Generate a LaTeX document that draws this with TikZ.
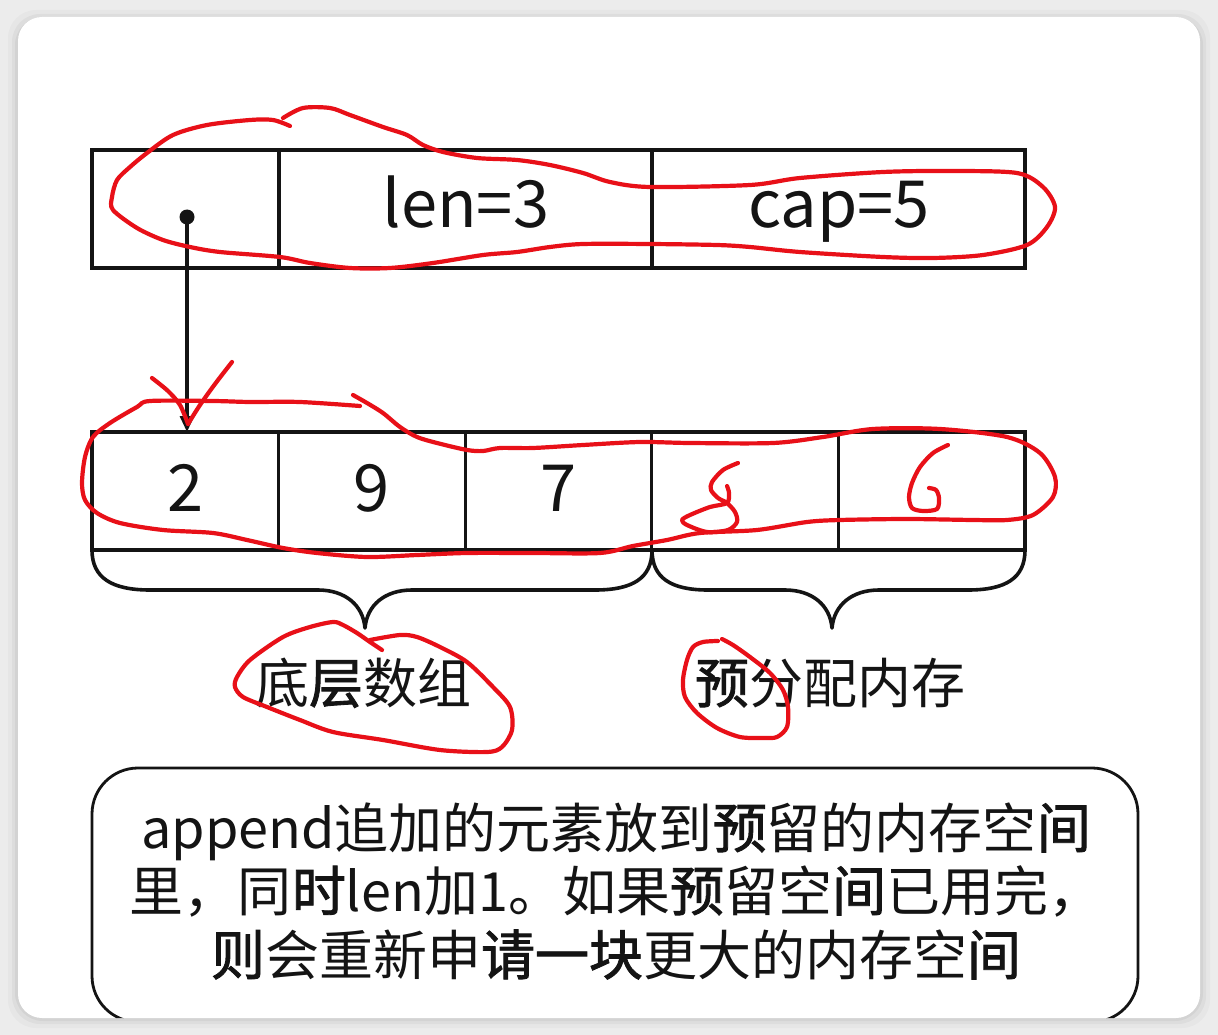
\documentclass[tikz,border=0pt]{standalone}
\usepackage{fontspec}
\setmainfont{Noto Sans CJK SC}[BoldFont={Noto Sans CJK SC},BoldFeatures={FakeBold=1.6}]
\usetikzlibrary{arrows.meta}
\definecolor{ink}{RGB}{20,20,20}
\definecolor{pen}{RGB}{232,16,24}
\definecolor{bg}{RGB}{236,236,236}
\begin{document}
\begin{tikzpicture}[x=1pt,y=-1pt,
  cell/.style={draw=ink,line width=3.2pt,minimum height=118pt,inner sep=0pt,outer sep=0pt},
  num/.style={anchor=base,font=\fontsize{65}{70}\selectfont,text=ink,inner sep=0pt},
  lbl/.style={anchor=base,font=\fontsize{54}{60}\selectfont,text=ink,inner sep=0pt},
  txt/.style={anchor=base,font=\fontsize{54}{60}\selectfont,text=ink,inner sep=0pt},
  redpen/.style={draw=pen,line width=4.2pt,line cap=round,line join=round},
  bracepath/.style={draw=ink,line width=3.6pt,line join=round},
  dotnode/.style={circle,fill=ink,inner sep=0pt,minimum size=15pt},
]
\useasboundingbox (0,0) rectangle (1218,1035);
\fill[bg] (0,0) rectangle (1218,1035);
\foreach \i/\o in {10/0.025,6/0.035,3/0.045} {
  \fill[black,opacity=\o,rounded corners=28] (18-\i,17-\i+3) rectangle (1200+\i,1018+\i);
}
\fill[white,rounded corners=24] (18,17) rectangle (1200,1018);

% top struct
\node[cell,minimum width=187pt] (p) at (185.5,209) {};
\node[cell,minimum width=373pt] (len) at (465.5,209) {};
\node[cell,minimum width=373pt] (cap) at (838.5,209) {};
\node[num] (tlen) at (466,228) {len=3};
\node[num] (tcap) at (839,228) {cap=5};

% array
\node[cell,minimum width=186.6pt] (a1) at (185.3,491) {};
\node[cell,minimum width=186.6pt] (a2) at (371.9,491) {};
\node[cell,minimum width=186.6pt] (a3) at (558.5,491) {};
\node[cell,minimum width=186.6pt] (a4) at (745.1,491) {};
\node[cell,minimum width=186.6pt] (a5) at (931.7,491) {};
\node[num] (n1) at (186,511) {2};
\node[num] (n2) at (372,511) {9};
\node[num] (n3) at (559,511) {7};

% pointer
\node[dotnode] (dot) at (187,217) {};
\draw[ink,line width=3.2pt,-{Triangle[length=16pt,width=14pt]}] (dot.center) -- (dot.center |- a1.north);

% braces
\draw[bracepath] (92,550) .. controls (92,578) and (112,590) .. (150,590) -- (318,590)
  .. controls (345,590) and (363,605) .. (365,628)
  .. controls (367,605) and (385,590) .. (412,590) -- (595,590)
  .. controls (633,590) and (652,578) .. (652,550);
\draw[bracepath] (652,550) .. controls (652,578) and (671,590) .. (708,590) -- (785,590)
  .. controls (812,590) and (830,605) .. (832,628)
  .. controls (834,605) and (852,590) .. (879,590) -- (968,590)
  .. controls (1006,590) and (1025,578) .. (1025,550);

\node[lbl] (l1) at (363,703) {底\textbf{层}数组};
\node[lbl] (l2) at (830,703) {\textbf{预}分配内存};

% bottom box
\begin{scope}
  \clip[rounded corners=24] (18,17) rectangle (1200,1018);
  \draw[ink,line width=2.8pt,rounded corners=46pt] (92,768) rectangle (1138,1022);
\end{scope}
\node[txt] (t1) at (616,848) {append追加的元素放到\textbf{预}留的内存空\textbf{间}};
\node[txt] (t2) at (616,911) {里，同\textbf{时}len加1。如果\textbf{预}留空\textbf{间}已用完，};
\node[txt] (t3) at (616,975) {\textbf{则}会重新申\textbf{请一块}更大的内存空\textbf{间}};

% red annotations
\draw[redpen] plot[smooth] coordinates {(290,126) (273,120) (250,120) (207,125) (173,135) (147,153) (130,167) (117,180) (112,197) (113,210) (137,228) (163,240) (190,247) (220,252) (280,257) (310,263) (350,268) (390,268) (433,263) (483,255) (517,252) (550,247) (583,244) (650,244) (717,245) (750,247) (800,252) (883,257) (933,258) (983,255) (1027,245) (1047,227) (1055,207) (1043,187) (1017,173) (950,171) (883,172) (800,178) (750,185) (650,187) (610,182) (583,173) (550,165) (517,160) (477,158) (443,152) (423,145) (407,135) (383,127) (350,115) (330,108) (303,108) (283,118)};

\draw[redpen] plot[smooth] coordinates {(360,406) (300,402) (250,402) (213,401) (150,401) (137,407) (110,423) (93,437) (85,457) (82,483) (85,500) (97,513) (120,523) (163,530) (213,533) (247,540) (283,548) (317,553) (367,557) (417,555) (467,553) (533,553) (600,553) (633,546) (667,540) (700,533) (757,530) (807,522) (840,520) (907,519) (973,520) (1007,520) (1033,515) (1053,497) (1055,477) (1040,453) (1007,437) (940,429) (873,429) (823,437) (773,443) (690,443) (640,442) (583,445) (533,448) (500,448) (483,451) (467,450) (437,443) (417,437) (400,427) (383,413) (367,403) (353,395)};

\draw[redpen] plot[smooth] coordinates {(152,378) (168,391) (180,405) (188,424)};
\draw[redpen] plot[smooth] coordinates {(188,424) (200,405) (215,384) (232,362)};

\draw[redpen] plot[smooth] coordinates {(738,463) (723,470) (712,482) (711,490) (718,498) (727,503) (735,512) (737,522) (728,530) (707,532) (687,525) (682,520) (690,515) (710,507) (727,503) (729,493) (727,486)};

\draw[redpen] plot[smooth] coordinates {(948,445) (933,453) (920,467) (912,483) (909,497) (912,508) (923,511) (937,509) (939,498) (936,490) (929,488)};

\draw[redpen] plot[smooth] coordinates {(370,640) (400,635) (417,637) (440,647) (467,662) (493,687) (510,707) (512,730) (502,747) (487,752) (440,750) (383,740) (333,732) (300,720) (267,707) (243,697) (235,687) (237,677) (250,660) (283,637) (310,627) (333,622) (343,625) (357,633) (370,642) (382,650)};

\draw[redpen] plot[smooth] coordinates {(718,641) (703,642) (693,647) (687,660) (683,680) (685,697) (697,713) (717,728) (740,737) (763,738) (777,737) (787,727) (788,707) (783,690) (770,673) (750,657) (733,645) (722,639)};
\end{tikzpicture}
\end{document}
